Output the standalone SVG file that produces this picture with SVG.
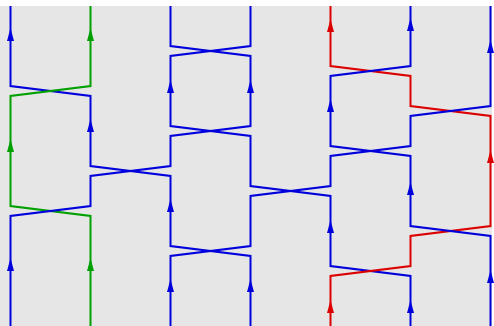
<svg xmlns="http://www.w3.org/2000/svg" width="494" height="326" viewBox="0 0 494 326">
<style>
.s{fill:none;stroke-width:2;stroke-linejoin:miter}
.b{stroke:#0000dd}.g{stroke:#00a000}.r{stroke:#dd0000}
.fb{fill:#0000dd}.fg{fill:#00a000}.fr{fill:#dd0000}
</style>
<defs>
<path id="a" d="M0,0 L3.5,13 L-3.5,13 Z"/>
</defs>
<rect x="0" y="6" width="492" height="320" fill="#e6e6e6"/>
<g id="strands" transform="translate(0.5,0)">
<path id="sA" class="s b" d="M10,6 V86 L90,96 V166 L170,176 V246 L250,256 V326"/>
<path id="sB" class="s g" d="M90,6 V86 L10,96 V206 L90,216 V326"/>
<path id="sC" class="s b" d="M170,6 V46 L250,56 V126 L170,136 V166 L90,176 V206 L10,216 V326"/>
<path id="sD" class="s b" d="M250,6 V46 L170,56 V126 L250,136 V186 L330,196 V266 L410,276 V326"/>
<path id="sE" class="s r" d="M330,6 V66 L410,76 V106 L490,116 V226 L410,236 V266 L330,276 V326"/>
<path id="sF" class="s b" d="M410,6 V66 L330,76 V146 L410,156 V226 L490,236 V326"/>
<path id="sG" class="s b" d="M490,6 V106 L410,116 V146 L330,156 V186 L250,196 V246 L170,256 V326"/>
</g>
<g id="arrows" transform="translate(0.5,0)">
<use href="#a" x="10" y="28" class="fb"/>
<use href="#a" x="10" y="139" class="fg"/>
<use href="#a" x="10" y="258" class="fb"/>
<use href="#a" x="90" y="28" class="fg"/>
<use href="#a" x="90" y="119" class="fb"/>
<use href="#a" x="90" y="258" class="fg"/>
<use href="#a" x="170" y="80" class="fb"/>
<use href="#a" x="170" y="199" class="fb"/>
<use href="#a" x="170" y="279" class="fb"/>
<use href="#a" x="250" y="80" class="fb"/>
<use href="#a" x="250" y="279" class="fb"/>
<use href="#a" x="330" y="19" class="fr"/>
<use href="#a" x="330" y="99" class="fb"/>
<use href="#a" x="330" y="220" class="fb"/>
<use href="#a" x="330" y="300" class="fr"/>
<use href="#a" x="410" y="18" class="fb"/>
<use href="#a" x="410" y="182" class="fb"/>
<use href="#a" x="410" y="300" class="fb"/>
<use href="#a" x="490" y="40" class="fb"/>
<use href="#a" x="490" y="150" class="fr"/>
<use href="#a" x="490" y="270" class="fb"/>
</g>
</svg>
